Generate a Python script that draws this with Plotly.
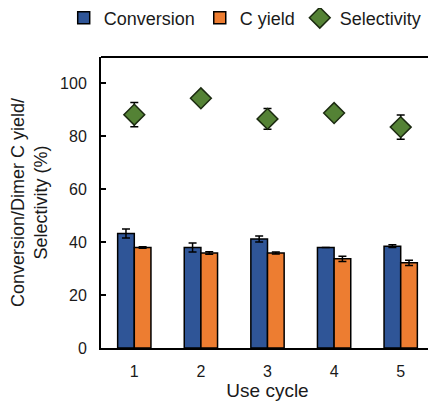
import plotly.graph_objects as go

cycles = ["1", "2", "3", "4", "5"]
conversion = [43.3, 38.0, 41.2, 38.0, 38.5]
conversion_err = [1.7, 1.7, 1.1, 0.0, 0.5]
c_yield = [38.0, 35.9, 35.9, 33.7, 32.2]
c_yield_err = [0.3, 0.5, 0.4, 1.0, 1.0]
selectivity = [88.2, 94.4, 86.6, 88.8, 83.5]
selectivity_err = [4.6, 0.0, 3.9, 0.0, 4.6]

fig = go.Figure()
fig.add_trace(go.Bar(
    x=cycles, y=conversion, name="Conversion",
    marker=dict(color="#2f5597", line=dict(color="black", width=1.5)),
    error_y=dict(type="data", array=conversion_err, color="black", thickness=1.5, width=4),
))
fig.add_trace(go.Bar(
    x=cycles, y=c_yield, name="C yield",
    marker=dict(color="#ed7d31", line=dict(color="black", width=1.5)),
    error_y=dict(type="data", array=c_yield_err, color="black", thickness=1.5, width=4),
))
fig.add_trace(go.Scatter(
    x=cycles, y=selectivity, name="Selectivity", mode="markers",
    marker=dict(symbol="diamond", size=16, color="#548235", line=dict(color="#1b2a10", width=1.5)),
    error_y=dict(type="data", array=selectivity_err, color="black", thickness=1.5, width=4),
))

# the page body has an 8px default margin; size the figure to fit the window
font_family = "Liberation Sans, Arial, sans-serif"
txt = "#1a1a1a"
fig.update_layout(
    width=428, height=393,
    margin=dict(l=93, r=2, t=49, b=53, autoexpand=False),
    plot_bgcolor="white", paper_bgcolor="white",
    barmode="group", bargap=0.5, bargroupgap=0,
    font=dict(family=font_family, color=txt, size=16),
    showlegend=True,
    legend=dict(orientation="h", x=-0.112, xanchor="left",
                y=1.134, yanchor="middle",
                font=dict(size=18, color=txt), itemwidth=30,
                tracegroupgap=0, bgcolor="rgba(0,0,0,0)"),
    xaxis=dict(showline=True, linecolor="black", linewidth=2, ticks="",
               automargin=False, ticklabelstandoff=8,
               tickfont=dict(size=16, color=txt),
               title=dict(text="Use cycle", font=dict(size=19, color=txt), standoff=6)),
    yaxis=dict(range=[0, 110], tickvals=[0, 20, 40, 60, 80, 100], showgrid=False,
               showline=True, linecolor="black", linewidth=2, ticks="inside", ticklen=5,
               tickwidth=2, tickcolor="black", zeroline=False,
               automargin=False, ticklabelstandoff=9,
               tickfont=dict(size=16, color=txt),
               title=dict(text="Conversion/Dimer C yield/<br>Selectivity (%)",
                          font=dict(size=18, color=txt), standoff=10)),
    shapes=[
        dict(type="line", xref="paper", yref="paper", x0=0, x1=1, y0=1, y1=1,
             line=dict(color="black", width=2)),
        dict(type="line", xref="paper", yref="paper", x0=1, x1=1, y0=0, y1=1,
             line=dict(color="black", width=1)),
    ],
)

fig.write_html("out.html")
